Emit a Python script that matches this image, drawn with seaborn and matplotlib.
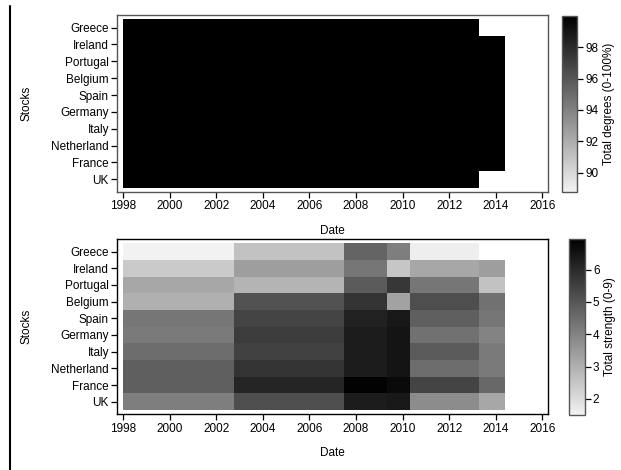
import numpy as np
import matplotlib
matplotlib.use('Agg')
import matplotlib.pyplot as plt
from matplotlib.lines import Line2D
import seaborn as sns

sns.set_style('white')
plt.rcParams['font.family'] = ['Liberation Sans', 'DejaVu Sans']
plt.rcParams['font.size'] = 8.5
plt.rcParams['text.color'] = 'black'
plt.rcParams['axes.labelcolor'] = 'black'
plt.rcParams['xtick.color'] = 'black'
plt.rcParams['ytick.color'] = 'black'

stocks = ['Greece', 'Ireland', 'Portugal', 'Belgium', 'Spain',
          'Germany', 'Italy', 'Netherland', 'France', 'UK']

# window boundaries (decimal years)
edges = [1998, 2002.74, 2007.49, 2009.35, 2010.32, 2013.26, 2014.4]

# Total degrees (0-100%) per window
degrees = [
    [100, 100, 100, 100, 100, np.nan],  # Greece
    [100, 100, 100, 100, 100, 100],     # Ireland
    [100, 100, 100, 100, 100, 100],     # Portugal
    [100, 100, 100, 100, 100, 100],     # Belgium
    [100, 100, 100, 100, 100, 100],     # Spain
    [100, 100, 100, 100, 100, 100],     # Germany
    [100, 100, 100, 100, 100, 100],     # Italy
    [100, 100, 100, 100, 100, 100],     # Netherland
    [100, 100, 100, 100, 100, 100],     # France
    [100, 100, 100, 100, 100, np.nan],  # UK
]

# Total strength (0-9) per window
strength = [
    [1.5, 2.6, 4.7, 4.1, 1.6, np.nan],  # Greece
    [2.4, 3.4, 4.3, 2.5, 3.2, 3.4],     # Ireland
    [3.2, 2.9, 4.9, 5.7, 4.3, 2.6],     # Portugal
    [3.0, 5.1, 5.8, 3.3, 5.2, 4.4],     # Belgium
    [4.3, 5.4, 6.2, 6.4, 4.8, 4.3],     # Spain
    [4.2, 5.6, 6.3, 6.5, 4.4, 4.0],     # Germany
    [4.5, 5.5, 6.3, 6.5, 4.9, 4.2],     # Italy
    [4.8, 5.8, 6.3, 6.5, 4.5, 4.2],     # Netherland
    [4.8, 6.1, 6.9, 6.7, 5.4, 4.6],     # France
    [4.1, 5.2, 6.3, 6.4, 3.8, 3.2],     # UK
]

cmap = sns.blend_palette(['#f2f2f2', '#000000'], as_cmap=True)

fig = plt.figure(figsize=(6.21, 4.70), dpi=100)
ax1 = fig.add_axes([0.1889, 0.5915, 0.6931, 0.3766])
ax2 = fig.add_axes([0.1889, 0.1185, 0.6931, 0.373])
cax1 = fig.add_axes([0.9055, 0.5921, 0.0242, 0.3745])
cax2 = fig.add_axes([0.9155, 0.1170, 0.0258, 0.3745])

rows = np.arange(len(stocks) + 1) - 0.5
panels = [
    (ax1, cax1, np.array(degrees), 88.8, 100, 'Total degrees (0-100%)', [90, 92, 94, 96, 98], '#555555'),
    (ax2, cax2, np.array(strength), 1.5, 6.95, 'Total strength (0-9)', [2, 3, 4, 5, 6], '#000000'),
]
for ax, cax, vals, vmin, vmax, clabel, cticks, fcol in panels:
    mesh = ax.pcolormesh(edges, rows, np.ma.masked_invalid(vals),
                         cmap=cmap, vmin=vmin, vmax=vmax)
    ax.set_xlim(1997.75, 2016.23)
    ax.set_ylim(9.75, -0.75)
    ax.set_xticks(range(1998, 2017, 2))
    ax.set_yticks(range(len(stocks)))
    ax.set_yticklabels(stocks)
    ax.tick_params(axis='both', which='both', direction='out', length=4,
                   width=0.9, color='black', labelcolor='black',
                   labelsize=8.5, pad=2, bottom=True, left=True)
    for s in ax.spines.values():
        s.set_visible(True)
        s.set_color(fcol)
        s.set_linewidth(1.0)
    ax.set_xlabel('Date', fontsize=8.5)
    ax.set_ylabel('Stocks', fontsize=8.5)
    ax.xaxis.set_label_coords(0.5, -0.185)
    ax.yaxis.set_label_coords(-0.197, 0.5)

    cb = fig.colorbar(mesh, cax=cax)
    cb.set_ticks(cticks)
    cb.outline.set_edgecolor('#555555')
    cb.outline.set_linewidth(1.0)
    cax.tick_params(direction='out', length=4, width=0.9, color='black',
                    labelcolor='black', labelsize=8.5, pad=2)
    cb.set_label(clabel, fontsize=8.5, labelpad=3, color='black')

fig.add_artist(Line2D([9.5 / 621, 9.5 / 621], [0, 1 - 5.7 / 470],
                      transform=fig.transFigure, color='black', linewidth=1.5))

fig.savefig('out.png', dpi=100)
